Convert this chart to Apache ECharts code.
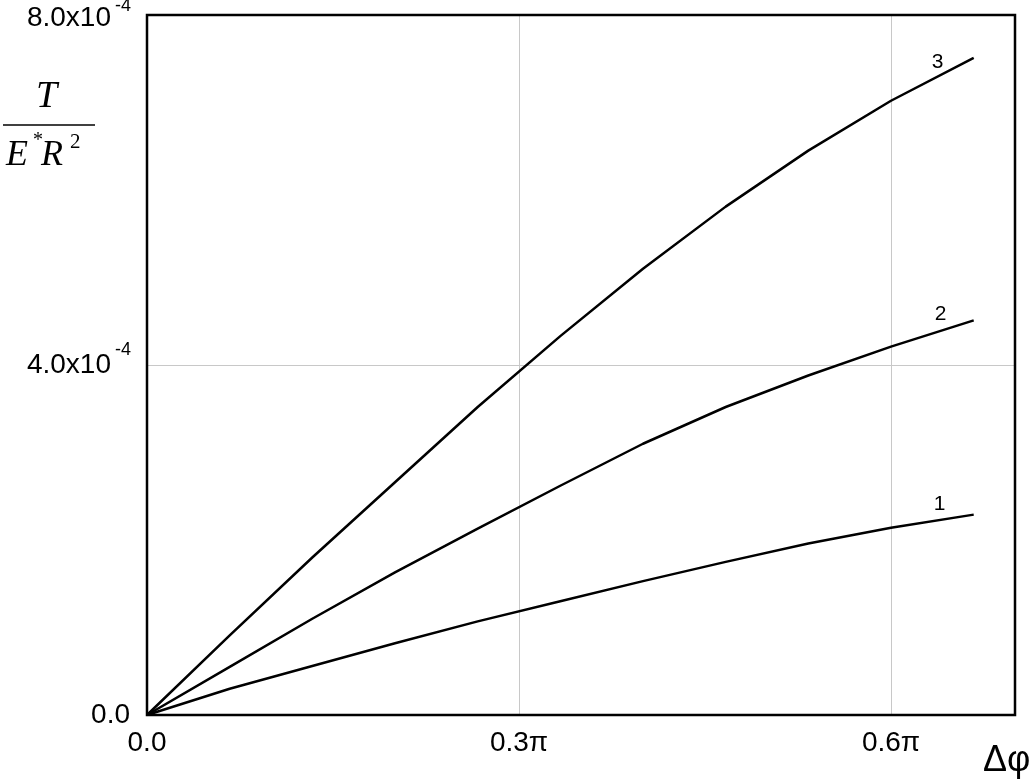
<!DOCTYPE html>
<html>
<head>
<meta charset="utf-8">
<script src="https://cdn.jsdelivr.net/npm/echarts@6/dist/echarts.min.js"></script>
<style>
html,body{margin:0;padding:0;background:#fff;}
#chart{width:1032px;height:781px;}
</style>
</head>
<body>
<div id="chart"></div>
<script>
// Δφ in units of π
const deltaPhi = [0, 0.0667, 0.1333, 0.2, 0.2667, 0.3333, 0.4, 0.4667, 0.5333, 0.6, 0.6667];
// T/(E*R^2) in units of 1e-4
const curve1 = [0, 0.30, 0.56, 0.82, 1.07, 1.30, 1.53, 1.75, 1.96, 2.14, 2.29];
const curve2 = [0, 0.55, 1.10, 1.63, 2.13, 2.62, 3.10, 3.52, 3.88, 4.21, 4.51];
const curve3 = [0, 0.91, 1.80, 2.66, 3.52, 4.33, 5.10, 5.81, 6.45, 7.02, 7.51];
const curveNames = ['1', '2', '3'];
const xTickLabels = {0: '0.0', 0.3: '0.3\u03c0', 0.6: '0.6\u03c0'};
const yTickMantissa = {0: '0.0', 4: '4.0x10', 8: '8.0x10'};
const yTickExponent = {0: '', 4: '-4', 8: '-4'};

const labelOffsets = [[-34, -10], [-33, -6], [-36, 4]];
const curves = [curve1, curve2, curve3];

const chart = echarts.init(document.getElementById('chart'), null, {renderer: 'canvas'});

const series = curves.map((ys, s) => ({
  type: 'line',
  name: curveNames[s],
  symbol: 'circle',
  symbolSize: 0,
  showSymbol: true,
  silent: true,
  animation: false,
  lineStyle: {color: '#000', width: 2.5},
  itemStyle: {color: '#000'},
  z: 5,
  data: deltaPhi.map((x, i) => {
    const item = {value: [x, ys[i]]};
    if (i === deltaPhi.length - 1) {
      item.label = {
        show: true, position: 'inside', offset: labelOffsets[s],
        formatter: curveNames[s], color: '#000',
        fontFamily: 'Liberation Sans', fontSize: 21
      };
    } else {
      item.label = {show: false};
    }
    return item;
  })
}));

const option = {
  animation: false,
  backgroundColor: '#fff',
  grid: {left: 147, top: 15, right: 17, bottom: 66, containLabel: false, outerBoundsMode: 'none', show: true, borderColor: '#000', borderWidth: 2.5, backgroundColor: 'transparent', z: 10},
  xAxis: {
    type: 'value', min: 0, max: 0.7, interval: 0.3,
    axisLine: {show: false}, axisTick: {show: false},
    splitLine: {show: true, lineStyle: {color: '#c8c8c8', width: 1}},
    axisLabel: {
      showMaxLabel: false, margin: 14, color: '#000',
      fontFamily: 'Liberation Sans', fontSize: 28,
      formatter: v => { const k = Math.round(v * 10) / 10; return xTickLabels[k] !== undefined ? xTickLabels[k] : ''; }
    }
  },
  yAxis: [{
    type: 'value', min: 0, max: 8, interval: 4,
    axisLine: {show: false}, axisTick: {show: false},
    splitLine: {show: true, lineStyle: {color: '#c8c8c8', width: 1}},
    axisLabel: {
      margin: 17, color: '#000',
      fontFamily: 'Liberation Sans', fontSize: 28,
      formatter: v => {
        if (!yTickExponent[v]) return '{p|' + yTickMantissa[v] + '}';
        if (v === 8) return '{gap| }\n{b|' + yTickMantissa[v] + '}';
        return '{b|' + yTickMantissa[v] + '}';
      },
      rich: {
        p: {fontSize: 28, fontFamily: 'Liberation Sans', color: '#000', lineHeight: 28},
        gap: {fontSize: 6, lineHeight: 6},
        b: {fontSize: 28, fontFamily: 'Liberation Sans', color: '#000', lineHeight: 28, padding: [0, 19, 0, 0]}
      }
    }
  }, {
    type: 'value', min: 0, max: 8, interval: 4, position: 'left',
    axisLine: {show: false}, axisTick: {show: false}, splitLine: {show: false},
    axisLabel: {
      margin: 16, color: '#000',
      fontFamily: 'Liberation Sans', fontSize: 18,
      formatter: v => {
        if (!yTickExponent[v]) return '';
        return '{e|' + yTickExponent[v] + '}\n{' + (v === 8 ? 'g8' : 'g4') + '| }';
      },
      rich: {
        e: {fontSize: 18, fontFamily: 'Liberation Sans', color: '#000', lineHeight: 18},
        g8: {fontSize: 10, lineHeight: 18},
        g4: {fontSize: 10, lineHeight: 29}
      }
    }
  }],
  graphic: [
    {type: 'text', left: 36, top: 78, style: {text: 'T', font: 'italic 38px "Liberation Serif"', fill: '#000'}},
    {type: 'line', shape: {x1: 3, y1: 125, x2: 95, y2: 125}, style: {stroke: '#000', lineWidth: 1.5}},
    {type: 'text', left: 6, top: 138, style: {text: 'E', font: 'italic 36px "Liberation Serif"', fill: '#000'}},
    {type: 'text', left: 33, top: 131, style: {text: '*', font: '20px "Liberation Serif"', fill: '#000'}},
    {type: 'text', left: 41, top: 138, style: {text: 'R', font: 'italic 36px "Liberation Serif"', fill: '#000'}},
    {type: 'text', left: 70, top: 132, style: {text: '2', font: '21px "Liberation Serif"', fill: '#000'}},
    {type: 'text', left: 983, top: 743, style: {text: '\u0394\u03c6', font: '36px "Liberation Sans"', fill: '#000'}}
  ],
  series: series
};
chart.setOption(option);
</script>
</body>
</html>
